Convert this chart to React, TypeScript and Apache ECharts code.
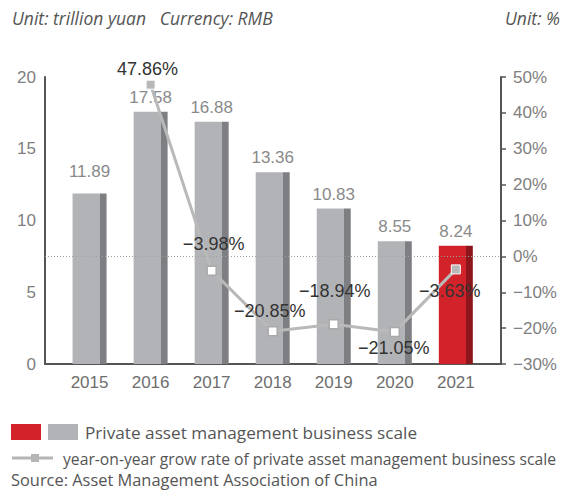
import React, { useEffect, useRef } from "react";
import * as echarts from "echarts";

const years = [2015, 2016, 2017, 2018, 2019, 2020, 2021];
const scaleValues = [11.89, 17.58, 16.88, 13.36, 10.83, 8.55, 8.24];
const growthValues: (number | null)[] = [null, 47.86, -3.98, -20.85, -18.94, -21.05, -3.63];
const leftTicks = [0, 5, 10, 15, 20];
const rightTicks = [-30, -20, -10, 0, 10, 20, 30, 40, 50];

const CHART_FONT = "Liberation Sans";
const TEXT_FONT = "Open Sans";

const grayBar = {
  type: "linear", x: 0, y: 0, x2: 1, y2: 0,
  colorStops: [
    { offset: 0, color: "#b2b3b6" },
    { offset: 0.795, color: "#b2b3b6" },
    { offset: 0.8, color: "#7e7f83" },
    { offset: 1, color: "#7e7f83" },
  ],
};
const redBar = {
  type: "linear", x: 0, y: 0, x2: 1, y2: 0,
  colorStops: [
    { offset: 0, color: "#d2232b" },
    { offset: 0.795, color: "#d2232b" },
    { offset: 0.8, color: "#8c161c" },
    { offset: 1, color: "#8c161c" },
  ],
};

// label offsets relative to marker center
const lineLabelOffsets: number[][] = [[0, 0], [-3, -16], [2, -27], [-3, -20], [1, -33], [-1, 16], [-6, 22]];
const barLabelDistances = [13, 6, 6, 6, 6, 6, 6];

export default function App() {
  const ref = useRef<HTMLDivElement>(null);
  useEffect(() => {
    if (!ref.current) return;
    const chart = echarts.init(ref.current, null, { renderer: "svg" });
    const barData = years.map((y, i) => ({
      value: [y, scaleValues[i]],
      itemStyle: { color: i === years.length - 1 ? redBar : grayBar },
      label: { distance: barLabelDistances[i] },
    }));
    const lineData = years.map((y, i) => {
      const v = growthValues[i];
      if (v === null) return { value: [y, null] as any };
      const filled = i === 1 || i === years.length - 1;
      return {
        value: [y, v],
        itemStyle: filled
          ? { color: "#b8b8b8", borderColor: "#ffffff", borderWidth: 1 }
          : { color: "#ffffff", borderColor: "#a9a9a9", borderWidth: 1.5 },
        label: { offset: lineLabelOffsets[i] },
      };
    });
    chart.setOption({
      animation: false,
      textStyle: { fontFamily: CHART_FONT },
      grid: { left: 45, right: 61, top: 77, bottom: 126, containLabel: false },
      xAxis: {
        type: "value",
        min: 2014.27,
        max: 2021.74,
        axisLine: { show: true, lineStyle: { color: "#555555", width: 2 } },
        axisTick: { show: false },
        splitLine: { show: false },
        axisLabel: {
          customValues: years,
          formatter: (v: number) => String(Math.round(v)),
          color: "#6e6e6e",
          fontSize: 17,
          margin: 10,
          fontFamily: CHART_FONT,
        },
      },
      yAxis: [
        {
          type: "value",
          min: 0,
          max: 20,
          interval: 5,
          position: "left",
          axisLine: { show: true, lineStyle: { color: "#555555", width: 2 } },
          axisTick: { show: false },
          splitLine: { show: false },
          axisLabel: {
            customValues: leftTicks,
            color: "#808080",
            fontSize: 17,
            margin: 9,
            fontFamily: CHART_FONT,
          },
        },
        {
          type: "value",
          min: -30,
          max: 50,
          interval: 10,
          position: "right",
          axisLine: { show: true, lineStyle: { color: "#555555", width: 2 } },
          axisTick: { show: true, length: 5, lineStyle: { color: "#555555", width: 1.5 } },
          splitLine: { show: false },
          axisLabel: {
            customValues: rightTicks,
            formatter: (v: number) => (v < 0 ? "\u2212" + Math.abs(v) : String(v)) + "%",
            color: "#808080",
            fontSize: 17,
            margin: 12,
            fontFamily: CHART_FONT,
          },
        },
      ],
      series: [
        {
          type: "bar",
          yAxisIndex: 0,
          barWidth: 34,
          data: barData,
          label: {
            show: true,
            position: "top",
            color: "#8a8a8a",
            fontSize: 17,
            fontFamily: CHART_FONT,
            formatter: (p: any) => p.value[1].toFixed(2),
          },
          z: 2,
        },
        {
          type: "line",
          yAxisIndex: 1,
          data: lineData,
          symbol: "rect",
          symbolSize: 9,
          connectNulls: false,
          lineStyle: { color: "#b9b9b9", width: 3 },
          label: {
            show: true,
            position: "inside",
            color: "#333333",
            fontSize: 18,
            fontFamily: CHART_FONT,
            formatter: (p: any) => {
              const v = p.value[1];
              return (v < 0 ? "\u2212" + Math.abs(v).toFixed(2) : v.toFixed(2)) + "%";
            },
          },
          markLine: {
            silent: true,
            symbol: "none",
            label: { show: false },
            lineStyle: { color: "#a0a0a0", type: [1, 2], width: 1 },
            data: [{ yAxis: 0 }],
          },
          z: 5,
        },
      ],
      graphic: [
        {
          type: "text", x: 12, y: 18,
          style: { text: "Unit: trillion yuan   Currency: RMB", fontSize: 17.5, fontStyle: "italic", fill: "#555555", fontFamily: TEXT_FONT, verticalAlign: "middle" },
        },
        {
          type: "text", x: 560, y: 18,
          style: { text: "Unit: %", fontSize: 17.5, fontStyle: "italic", fill: "#555555", fontFamily: TEXT_FONT, align: "right", verticalAlign: "middle" },
        },
        { type: "rect", shape: { x: 11, y: 424, width: 30, height: 16 }, style: { fill: "#d2232b" } },
        { type: "rect", shape: { x: 48, y: 424, width: 30, height: 16 }, style: { fill: "#b2b3b6" } },
        {
          type: "text", x: 85, y: 432,
          style: { text: "Private asset management business scale", fontSize: 17.2, fill: "#555555", fontFamily: TEXT_FONT, verticalAlign: "middle" },
        },
        { type: "line", shape: { x1: 12, y1: 458, x2: 53, y2: 458 }, style: { stroke: "#b5b5b5", lineWidth: 3 } },
        { type: "rect", shape: { x: 31, y: 454, width: 8, height: 8 }, style: { fill: "#b5b5b5" } },
        {
          type: "text", x: 63, y: 459,
          style: { text: "year-on-year grow rate of private asset management business scale", fontSize: 15.7, fill: "#555555", fontFamily: TEXT_FONT, verticalAlign: "middle" },
        },
        {
          type: "text", x: 11, y: 479,
          style: { text: "Source: Asset Management Association of China", fontSize: 16.4, fill: "#555555", fontFamily: TEXT_FONT, verticalAlign: "middle" },
        },
      ],
    });
    return () => chart.dispose();
  }, []);
  return <div ref={ref} style={{ width: 562, height: 490, position: "absolute", left: 0, top: 0 }} />;
}
